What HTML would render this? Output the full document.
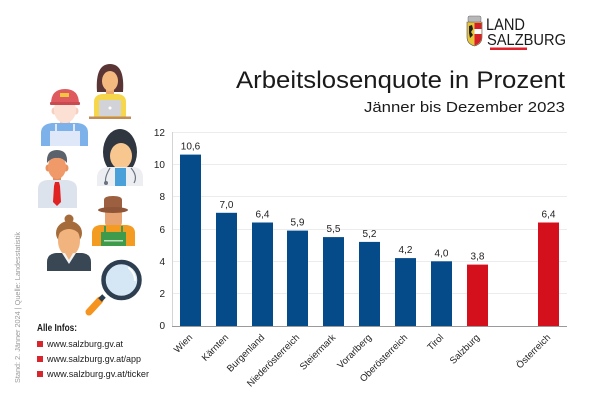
<!DOCTYPE html>
<html><head><meta charset="utf-8"><style>
html,body{margin:0;padding:0;background:#fff;}
svg{display:block;}
text{font-family:"Liberation Sans",sans-serif;}
</style></head><body>
<svg width="600" height="400" viewBox="0 0 600 400" xmlns="http://www.w3.org/2000/svg">
<rect width="600" height="400" fill="#fff"/>

<!-- Logo -->
<g>
  <path d="M467,22 L482,22 L482,37 Q482,44 474.5,46 Q467,44 467,37 Z" fill="#e8c43a" stroke="#555" stroke-width="0.6"/>
  <rect x="468" y="16" width="13" height="6" rx="1.5" fill="#b8b8b8" stroke="#666" stroke-width="0.5"/>
  <path d="M474.5,23 L481.5,23 L481.5,37 Q481.5,43 474.5,45.5 Z" fill="#d8202a"/>
  <rect x="474.5" y="29" width="7" height="5" fill="#fff"/>
  <path d="M469,26 l3,-1 l1,4 l-2,3 l2,3 l-3,3 l-1,-5 z" fill="#222"/>
  <text x="486" y="30" font-size="17" fill="#1a1a1a" textLength="39" lengthAdjust="spacingAndGlyphs">LAND</text>
  <text x="487" y="45" font-size="16" fill="#1a1a1a" textLength="79" lengthAdjust="spacingAndGlyphs">SALZBURG</text>
  <rect x="490" y="47.5" width="37" height="2.5" fill="#e0202a"/>
</g>

<!-- Title -->
<text x="565" y="88" font-size="24" fill="#1a1a1a" text-anchor="end" textLength="329" lengthAdjust="spacingAndGlyphs">Arbeitslosenquote in Prozent</text>
<text x="565" y="112" font-size="15" fill="#1a1a1a" text-anchor="end" textLength="201" lengthAdjust="spacingAndGlyphs">Jänner bis Dezember 2023</text>

<!-- Icons -->
<g>
  <path d="M97,92 Q95,64 110,64 Q125,64 123,92 Z" fill="#5a3535"/>
  <rect x="106" y="88" width="8" height="8" fill="#e9a96c"/>
  <ellipse cx="110" cy="81" rx="8" ry="10" fill="#f3b97f"/>
  <path d="M94,118 L94,102 Q94,95 102,94 L118,94 Q126,95 126,102 L126,118 Z" fill="#f6d74b"/>
  <rect x="99" y="100" width="22" height="16" rx="1" fill="#d2d3d8"/>
  <circle cx="110" cy="108" r="1.5" fill="#fff"/>
  <rect x="89" y="116.5" width="42" height="2.5" fill="#c28b5a"/>
</g>
<g>
  <rect x="60" y="118" width="10" height="8" fill="#f6c8b6"/>
  <ellipse cx="54" cy="111" rx="2.5" ry="3.5" fill="#f6cfc0"/>
  <ellipse cx="76" cy="111" rx="2.5" ry="3.5" fill="#f6cfc0"/>
  <ellipse cx="65" cy="110" rx="11" ry="13" fill="#fde0d4"/>
  <path d="M51,104 Q51,89 65,89 Q79,89 79,104 Z" fill="#df5a5e"/>
  <rect x="50" y="102" width="30" height="3" rx="1" fill="#c94a50"/>
  <rect x="60" y="93" width="9" height="4" fill="#f2c440"/>
  <path d="M41,146 L41,133 Q41,124 52,123 L78,123 Q88,124 88,133 L88,146 Z" fill="#7db1ea"/>
  <path d="M50,146 L50,131 L55,131 L55,124 L57,124 L57,131 L73,131 L73,124 L75,124 L75,131 L80,131 L80,146 Z" fill="#dfe8f8"/>
</g>
<g>
  <ellipse cx="120" cy="152" rx="17" ry="23" fill="#2f3640"/>
  <ellipse cx="121" cy="156" rx="11" ry="13" fill="#f8c790"/>
  <path d="M97,186 L97,178 Q97,168 108,167 L134,167 Q143,168 143,178 L143,186 Z" fill="#eceef2"/>
  <rect x="115" y="168" width="11" height="18" fill="#4aa0d8"/>
  <path d="M110,168 Q104,178 106,183" stroke="#6a7380" stroke-width="1.2" fill="none"/>
  <circle cx="106" cy="183" r="2" fill="#6a7380"/>
  <path d="M131,168 Q138,176 134,183" stroke="#6a7380" stroke-width="1.2" fill="none"/>
</g>
<g>
  <rect x="53" y="175" width="8" height="8" fill="#e08c5e"/>
  <ellipse cx="48" cy="168" rx="2.5" ry="3.5" fill="#e8925f"/>
  <ellipse cx="66" cy="168" rx="2.5" ry="3.5" fill="#e8925f"/>
  <ellipse cx="57" cy="167" rx="9" ry="12" fill="#f09a6a"/>
  <path d="M47,163 Q46,150 57,150 Q68,150 67,163 Q62,157 57,158 Q52,157 47,163 Z" fill="#5b626b"/>
  <path d="M38,208 L38,189 Q38,181 47,180 L67,180 Q77,181 77,189 L77,208 Z" fill="#dde3ed"/>
  <polygon points="55,182 59,182 60,186 61,202 57,206 53,202 54,186" fill="#e02222"/>
</g>
<g>
  <path d="M105,210 L105,222 Q105,228 113,228 Q122,228 122,222 L122,210 Z" fill="#e8a373"/>
  <path d="M92,246 L92,233 Q92,226 100,225 L127,225 Q135,226 135,233 L135,246 Z" fill="#f49c22"/>
  <path d="M101,246 L101,232 L104,232 L104,226 L106,226 L106,232 L121,232 L121,226 L123,226 L123,232 L126,232 L126,246 Z" fill="#3e9b4b"/>
  <rect x="104" y="240" width="19" height="1.5" fill="#bfe0c0"/>
  <path d="M104,209 L104,200 Q104,196 113,196 Q122,196 122,200 L122,209 Z" fill="#9c5f3f"/>
  <ellipse cx="113" cy="210" rx="15" ry="3" fill="#8e5538"/>
</g>
<g>
  <circle cx="69" cy="219" r="4.5" fill="#a56b3b"/>
  <ellipse cx="69" cy="233" rx="13" ry="12" fill="#a56b3b"/>
  <rect x="64" y="250" width="10" height="8" fill="#e6a46e"/>
  <ellipse cx="69" cy="241" rx="11" ry="15" fill="#f2b47e"/>
  <path d="M57,236 Q58,224 69,224 Q80,224 81,236 Q76,229 69,229 Q62,229 57,236 Z" fill="#a56b3b"/>
  <path d="M47,271 L47,262 Q47,254 56,253 L82,253 Q91,254 91,262 L91,271 Z" fill="#394755"/>
  <polygon points="62,253 69,264 76,253" fill="#f2f2f2"/>
  <polygon points="65,253 69,260 73,253" fill="#f2b47e"/>
</g>
<g>
  <line x1="100" y1="300" x2="89" y2="312" stroke="#f5941f" stroke-width="7" stroke-linecap="round"/>
  <line x1="104" y1="296" x2="100" y2="300" stroke="#2d3e50" stroke-width="5"/>
  <circle cx="121.5" cy="280" r="18" fill="#d5e7f5" stroke="#2d3e50" stroke-width="4.5"/>
  <path d="M129,268 Q135,273 135,280" stroke="#fff" stroke-width="2" fill="none" stroke-linecap="round"/>
</g>

<text transform="translate(20,383) rotate(-90)" font-size="7" fill="#9a9a9a" textLength="151" lengthAdjust="spacingAndGlyphs">Stand: 2. Jänner 2024 | Quelle: Landesstatistik</text>

<text x="37" y="331" font-size="10" font-weight="bold" fill="#1a1a1a" textLength="40" lengthAdjust="spacingAndGlyphs">Alle Infos:</text>
<rect x="37" y="341" width="6" height="6" fill="#d9262c"/>
<text x="47" y="347" font-size="9.5" fill="#1a1a1a" textLength="76" lengthAdjust="spacingAndGlyphs">www.salzburg.gv.at</text>
<rect x="37" y="356" width="6" height="6" fill="#d9262c"/>
<text x="47" y="362" font-size="9.5" fill="#1a1a1a" textLength="94" lengthAdjust="spacingAndGlyphs">www.salzburg.gv.at/app</text>
<rect x="37" y="371" width="6" height="6" fill="#d9262c"/>
<text x="47" y="377" font-size="9.5" fill="#1a1a1a" textLength="102" lengthAdjust="spacingAndGlyphs">www.salzburg.gv.at/ticker</text>

<g stroke="#ececec" stroke-width="1">
  <line x1="172" y1="132.5" x2="567" y2="132.5"/>
  <line x1="172" y1="164.5" x2="567" y2="164.5"/>
  <line x1="172" y1="196.5" x2="567" y2="196.5"/>
  <line x1="172" y1="229.5" x2="567" y2="229.5"/>
  <line x1="172" y1="261.5" x2="567" y2="261.5"/>
  <line x1="172" y1="293.5" x2="567" y2="293.5"/>
</g>
<line x1="172.5" y1="132" x2="172.5" y2="326" stroke="#d4d4d4" stroke-width="1"/>

<g font-size="10" fill="#222" text-anchor="end">
  <text x="165" y="136">12</text>
  <text x="165" y="168">10</text>
  <text x="165" y="200">8</text>
  <text x="165" y="233">6</text>
  <text x="165" y="265">4</text>
  <text x="165" y="297">2</text>
  <text x="165" y="329">0</text>
</g>

<g fill="#064b89">
  <rect x="180" y="154.6" width="21" height="171.4"/>
  <rect x="216" y="212.8" width="21" height="113.2"/>
  <rect x="252" y="222.5" width="21" height="103.5"/>
  <rect x="287" y="230.6" width="21" height="95.4"/>
  <rect x="323" y="237.1" width="21" height="88.9"/>
  <rect x="359" y="241.9" width="21" height="84.1"/>
  <rect x="395" y="258.1" width="21" height="67.9"/>
  <rect x="431" y="261.3" width="21" height="64.7"/>
</g>
<g fill="#d3101b">
  <rect x="467" y="264.6" width="21" height="61.4"/>
  <rect x="538" y="222.5" width="21" height="103.5"/>
</g>
<line x1="172" y1="326.5" x2="567" y2="326.5" stroke="#9a9a9a" stroke-width="1"/>

<g font-size="10" fill="#222" text-anchor="middle">
  <text x="190.5" y="149.6">10,6</text>
  <text x="226.5" y="207.8">7,0</text>
  <text x="262.5" y="217.5">6,4</text>
  <text x="297.5" y="225.6">5,9</text>
  <text x="333.5" y="232.1">5,5</text>
  <text x="369.5" y="236.9">5,2</text>
  <text x="405.5" y="253.1">4,2</text>
  <text x="441.5" y="256.3">4,0</text>
  <text x="477.5" y="259.6">3,8</text>
  <text x="548.5" y="217.5">6,4</text>
</g>

<g font-size="9.5" fill="#222" text-anchor="end">
  <text transform="translate(193,338) rotate(-45)">Wien</text>
  <text transform="translate(229,338) rotate(-45)">Kärnten</text>
  <text transform="translate(265,338) rotate(-45)">Burgenland</text>
  <text transform="translate(300,338) rotate(-45)">Niederösterreich</text>
  <text transform="translate(336,338) rotate(-45)">Steiermark</text>
  <text transform="translate(372,338) rotate(-45)">Vorarlberg</text>
  <text transform="translate(408,338) rotate(-45)">Oberösterreich</text>
  <text transform="translate(444,338) rotate(-45)">Tirol</text>
  <text transform="translate(480,338) rotate(-45)">Salzburg</text>
  <text transform="translate(551,338) rotate(-45)">Österreich</text>
</g>
</svg>
</body></html>
